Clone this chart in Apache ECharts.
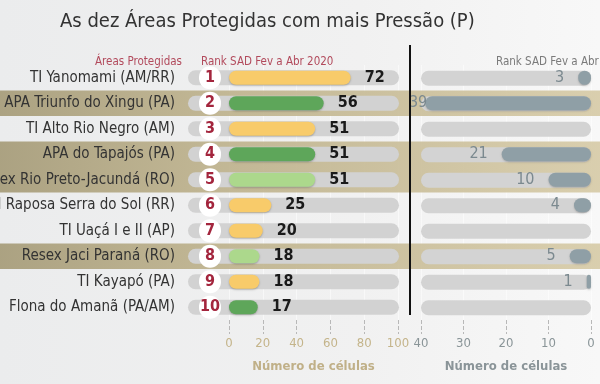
<!DOCTYPE html>
<html>
<head>
<meta charset="utf-8">
<script src="https://cdn.jsdelivr.net/npm/echarts@6/dist/echarts.min.js"></script>
<style>html,body{margin:0;padding:0;}#c{width:600px;height:384px;}</style>
</head>
<body>
<div id="c"></div>
<script>
var areas = ['TI Yanomami (AM/RR)', 'APA Triunfo do Xingu (PA)', 'TI Alto Rio Negro (AM)', 'APA do Tapajós (PA)', 'Resex Rio Preto-Jacundá (RO)', 'TI Raposa Serra do Sol (RR)', 'TI Uaçá I e II (AP)', 'Resex Jaci Paraná (RO)', 'TI Kayapó (PA)', 'Flona do Amanã (PA/AM)'];
var ranks = [1, 2, 3, 4, 5, 6, 7, 8, 9, 10];
var cells2020 = [72, 56, 51, 51, 51, 25, 20, 18, 18, 17];
var cells2019 = [3, 39, 0, 21, 10, 4, 0, 5, 1, 0];
var barColors = ['#f8cb6a', '#5ea65a', '#f8cb6a', '#5ea65a', '#acd88c', '#f8cb6a', '#f8cb6a', '#acd88c', '#f8cb6a', '#5ea65a'];
var highlightRows = [0, 1, 0, 1, 1, 0, 0, 1, 0, 0];
var leftTicks = [0, 20, 40, 60, 80, 100];
var rightTicks = [0, 10, 20, 30, 40];

var FONT = '"Liberation Sans Narrow","DejaVu Sans Condensed","Roboto Condensed",sans-serif';
var chart = echarts.init(document.getElementById('c'));
var TOP = 65, H = 255;
function grid(o) { o.top = TOP; o.height = H; o.containLabel = false; o.outerBoundsMode = 'none'; return o; }

chart.setOption({
  backgroundColor: new echarts.graphic.LinearGradient(0, 0, 1, 0, [
    {offset: 0, color: '#ebeced'}, {offset: 0.6, color: '#f1f1f1'}, {offset: 1, color: '#f8f8f8'}]),
  textStyle: {fontFamily: FONT},
  title: [
    {text: 'As dez Áreas Protegidas com mais Pressão (P)', left: 55, top: 7,
     textStyle: {fontFamily: FONT, fontSize: 20, fontWeight: 'normal', color: '#333'}},
    {text: 'Áreas Protegidas', left: 90, top: 51,
     textStyle: {fontFamily: FONT, fontSize: 11.5, fontWeight: 'normal', color: '#b24a5c'}},
    {text: 'Rank SAD Fev a Abr 2020', left: 196, top: 51,
     textStyle: {fontFamily: FONT, fontSize: 11.5, fontWeight: 'normal', color: '#b24a5c'}},
    {text: 'Rank SAD Fev a Abr 2019', left: 491, top: 51,
     textStyle: {fontFamily: FONT, fontSize: 11.5, fontWeight: 'normal', color: '#7a7a7a'}}
  ],
  graphic: [
    {type: 'line', shape: {x1: 410, y1: 45, x2: 410, y2: 315}, style: {stroke: '#111', lineWidth: 2}, z: 100}
  ],
  grid: [
    grid({left: 0, right: 0}),
    grid({left: 188, width: 211}),
    grid({left: 229, width: 169}),
    grid({left: 421, width: 170})
  ],
  xAxis: [
    {gridIndex: 0, type: 'value', min: 0, max: 1, show: false},
    {gridIndex: 1, type: 'value', min: 0, max: 1, show: false},
    {gridIndex: 2, type: 'value', min: 0, max: 100, interval: 20,
     axisLine: {show: false},
     axisTick: {show: true, length: 14, lineStyle: {type: 'dashed', color: '#b8b8b8'}},
     splitLine: {show: true, lineStyle: {color: 'rgba(255,255,255,0.5)'}},
     axisLabel: {margin: 17, fontFamily: FONT, fontSize: 13, color: '#c4b48a',
       formatter: function (v) { return leftTicks.indexOf(v) >= 0 ? String(v) : ''; }},
     name: 'Número de células', nameLocation: 'middle', nameGap: 40,
     nameTextStyle: {fontFamily: FONT, fontSize: 13, fontWeight: 'bold', color: '#c0b088'}},
    {gridIndex: 3, type: 'value', min: 0, max: 40, interval: 10, inverse: true,
     axisLine: {show: false},
     axisTick: {show: true, length: 14, lineStyle: {type: 'dashed', color: '#b8b8b8'}},
     splitLine: {show: true, lineStyle: {color: 'rgba(255,255,255,0.5)'}},
     axisLabel: {margin: 17, fontFamily: FONT, fontSize: 13, color: '#8a9598',
       formatter: function (v) { return rightTicks.indexOf(v) >= 0 ? String(v) : ''; }},
     name: 'Número de células', nameLocation: 'middle', nameGap: 40,
     nameTextStyle: {fontFamily: FONT, fontSize: 13, fontWeight: 'bold', color: '#8a9498'}}
  ],
  yAxis: [
    {gridIndex: 0, type: 'category', data: areas, inverse: true, show: false},
    {gridIndex: 1, type: 'category', data: areas, inverse: true,
     axisLine: {show: false}, axisTick: {show: false},
     axisLabel: {margin: 13, fontFamily: FONT, fontSize: 15, color: '#333'}},
    {gridIndex: 2, type: 'category', data: areas, inverse: true, z: 20,
     axisLine: {show: false}, axisTick: {show: false},
     axisLabel: {margin: 8,
       formatter: function (v, i) { return '{c|' + ranks[i] + '}'; },
       rich: {c: {width: 22, height: 23, borderRadius: 11, backgroundColor: '#fff', align: 'center',
                  color: '#a3253d', fontWeight: 'bold', fontSize: 16, fontFamily: FONT}}}},
    {gridIndex: 3, type: 'category', data: areas, inverse: true, show: false}
  ],
  series: [
    {type: 'bar', xAxisIndex: 0, yAxisIndex: 0, barWidth: '100%', silent: true, z: 0,
     itemStyle: {color: new echarts.graphic.LinearGradient(0, 0, 1, 0, [
       {offset: 0, color: 'rgba(168,158,124,0.95)'}, {offset: 0.35, color: 'rgba(188,176,138,0.9)'},
       {offset: 1, color: 'rgba(214,202,166,0.9)'}])},
     data: highlightRows},
    {type: 'bar', xAxisIndex: 1, yAxisIndex: 1, barWidth: 15, silent: true, z: 1,
     itemStyle: {color: '#d2d2d2', borderRadius: 8},
     data: areas.map(function () { return 1; })},
    {type: 'bar', xAxisIndex: 2, yAxisIndex: 2, barWidth: 14, z: 3,
     itemStyle: {borderRadius: 7, shadowColor: 'rgba(0,0,0,0.25)', shadowBlur: 2, shadowOffsetY: 1},
     label: {show: true, position: 'right', distance: 14, fontFamily: FONT, fontSize: 16,
             fontWeight: 'bold', color: '#1a1a1a'},
     data: cells2020.map(function (v, i) { return {value: v, itemStyle: {color: barColors[i]}}; })},
    {type: 'bar', xAxisIndex: 3, yAxisIndex: 3, barWidth: 15, silent: true, z: 1,
     itemStyle: {color: '#d3d3d3', borderRadius: 8},
     data: areas.map(function () { return 40; })},
    {type: 'bar', xAxisIndex: 3, yAxisIndex: 3, barWidth: 14, barGap: '-100%', z: 3,
     itemStyle: {color: '#8f9fa6', borderRadius: 7, shadowColor: 'rgba(0,0,0,0.2)', shadowBlur: 2, shadowOffsetY: 1},
     label: {show: true, position: 'left', distance: 14, fontFamily: FONT, fontSize: 16, color: '#7b898f',
             formatter: function (p) { return p.value ? String(p.value) : ''; }},
     data: cells2019.map(function (v) {
       return v >= 35 ? {value: v, label: {offset: [16, 0]}} : v; })}
  ]
});
</script>
</body>
</html>
